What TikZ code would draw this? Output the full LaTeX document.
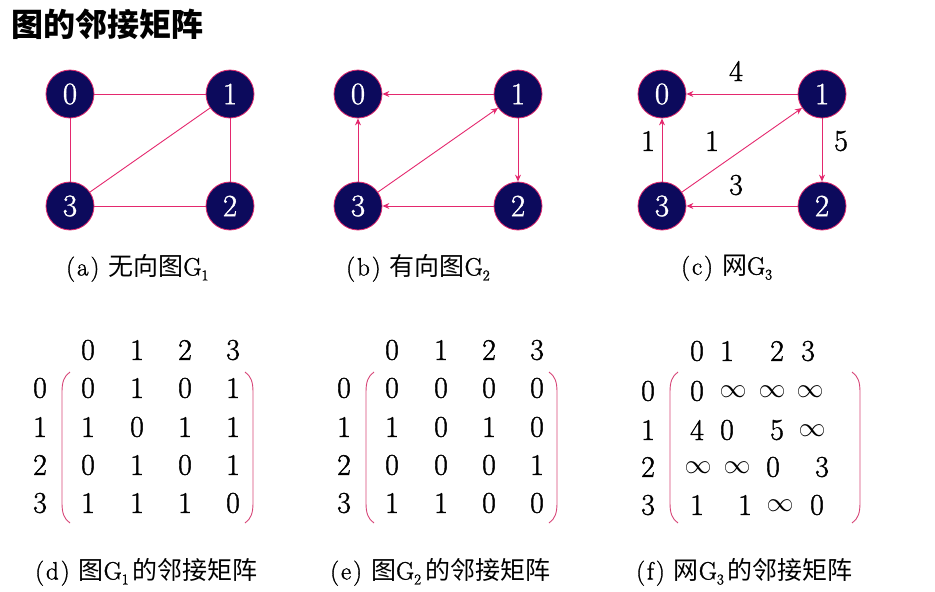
\documentclass[tikz,border=0pt]{standalone}
\usepackage{fix-cm}
\usepackage{fontspec}
\newfontfamily\cjk{Noto Sans CJK SC}
\newfontfamily\numfont{Latin Modern Roman}[RawFeature={embolden=1.3}]
\usetikzlibrary{arrows.meta}
\definecolor{navy}{RGB}{12,10,92}
\definecolor{edgec}{RGB}{228,40,110}
\definecolor{parc}{RGB}{215,70,120}
\newcommand\zh[1]{{\cjk #1}}
\newcommand\sbs[1]{\raisebox{-5pt}{\fontsize{15}{15}\selectfont #1}}
\newcommand\inft{{\fontsize{27}{27}\selectfont$\infty$}}
\newcommand\lbl[1]{(\kern2pt#1\kern2pt)\hspace{9pt}}
\begin{document}
\begin{tikzpicture}[x=1pt,y=-1pt,
  vtx/.style={circle,fill=navy,draw=edgec,line width=0.8pt,minimum size=48pt,inner sep=0pt,text=white,font=\fontsize{31}{31}\selectfont\numfont},
  edge/.style={draw=edgec,line width=0.9pt},
  arc/.style={edge,-{Stealth[length=7pt,width=6pt]}},
  num/.style={font=\fontsize{30}{30}\selectfont\numfont,inner sep=0pt},
  captxt/.style={font=\fontsize{25}{25}\selectfont\numfont,inner sep=0pt,anchor=west},
  paren/.style={draw=parc,line width=0.9pt}
]
\useasboundingbox (0,0) rectangle (935,592);
\node[anchor=west,inner sep=0pt,font=\fontsize{32}{32}\selectfont\cjk\bfseries] (title) at (11,24) {图的邻接矩阵};

% graph a
\node[vtx] (a0) at (70,94) {0};
\node[vtx] (a1) at (230,94) {1};
\node[vtx] (a2) at (230,206) {2};
\node[vtx] (a3) at (70,206) {3};
\draw[edge] (a0) -- (a1);
\draw[edge] (a0) -- (a3);
\draw[edge] (a1) -- (a2);
\draw[edge] (a3) -- (a2);
\draw[edge] (a3) -- (a1);
\node[captxt] (capa) at (66,268) {\lbl{a}\zh{无向图}G\sbs{1}};

% graph b
\node[vtx] (b0) at (358,94) {0};
\node[vtx] (b1) at (518,94) {1};
\node[vtx] (b2) at (518,206) {2};
\node[vtx] (b3) at (358,206) {3};
\draw[arc] (b1) -- (b0);
\draw[arc] (b1) -- (b2);
\draw[arc] (b2) -- (b3);
\draw[arc] (b3) -- (b0);
\draw[arc] (b3) -- (b1);
\node[captxt] (capb) at (346,268) {\lbl{b}\zh{有向图}G\sbs{2}};

% graph c
\node[vtx] (c0) at (662,94) {0};
\node[vtx] (c1) at (822,94) {1};
\node[vtx] (c2) at (822,206) {2};
\node[vtx] (c3) at (662,206) {3};
\draw[arc] (c1) -- (c0);
\draw[arc] (c1) -- (c2);
\draw[arc] (c2) -- (c3);
\draw[arc] (c3) -- (c0);
\draw[arc] (c3) -- (c1);
\node[num] (w10) at (736,71) {4};
\node[num] (w12) at (841,141) {5};
\node[num] (w23) at (736,185) {3};
\node[num] (w30) at (648,141) {1};
\node[num] (w31) at (712,141) {1};
\node[captxt] (capc) at (681,268) {\lbl{c}\zh{网}G\sbs{3}};

% matrix d
\foreach \c/\x in {0/88,1/137,2/185,3/233} \node[num] (dh\c) at (\x,350) {\c};
\foreach \r/\y in {0/388,1/427,2/465,3/503} \node[num] (dr\r) at (40,\y) {\r};
\foreach \r/\y/\a/\b/\cc/\d in {0/388/0/1/0/1,1/427/1/0/1/1,2/465/0/1/0/1,3/503/1/1/1/0}{
  \node[num] (d\r0) at (88,\y) {\a};
  \node[num] (d\r1) at (137,\y) {\b};
  \node[num] (d\r2) at (185,\y) {\cc};
  \node[num] (d\r3) at (233,\y) {\d};
}
\draw[paren] (70,372) .. controls (64,376) and (62,382) .. (62,392) -- (62,503) .. controls (62,513) and (64,519) .. (70,523);
\draw[paren] (245,372) .. controls (251,376) and (253,382) .. (253,392) -- (253,503) .. controls (253,513) and (251,519) .. (245,523);
\node[captxt] (capd) at (35,572) {\lbl{d}\zh{图}G\sbs{1}\kern4pt\zh{的邻接矩阵}};

% matrix e
\foreach \c/\x in {0/392,1/441,2/489,3/537} \node[num] (eh\c) at (\x,350) {\c};
\foreach \r/\y in {0/388,1/427,2/465,3/503} \node[num] (er\r) at (344,\y) {\r};
\foreach \r/\y/\a/\b/\cc/\d in {0/388/0/0/0/0,1/427/1/0/1/0,2/465/0/0/0/1,3/503/1/1/0/0}{
  \node[num] (e\r0) at (392,\y) {\a};
  \node[num] (e\r1) at (441,\y) {\b};
  \node[num] (e\r2) at (489,\y) {\cc};
  \node[num] (e\r3) at (537,\y) {\d};
}
\draw[paren] (374,372) .. controls (368,376) and (366,382) .. (366,392) -- (366,503) .. controls (366,513) and (368,519) .. (374,523);
\draw[paren] (549,372) .. controls (555,376) and (557,382) .. (557,392) -- (557,503) .. controls (557,513) and (555,519) .. (549,523);
\node[captxt] (cape) at (330,572) {\lbl{e}\zh{图}G\sbs{2}\kern4pt\zh{的邻接矩阵}};

% matrix f
\node[num] (fh0) at (697,351) {0};
\node[num] (fh1) at (727,351) {1};
\node[num] (fh2) at (777,351) {2};
\node[num] (fh3) at (808,351) {3};
\foreach \r/\y in {0/391,1/430,2/467,3/505} \node[num] (fr\r) at (648,\y) {\r};
\node[num] (f00) at (697,391) {0};
\node[num] (f01) at (733,392) {\inft};
\node[num] (f02) at (772,392) {\inft};
\node[num] (f03) at (810,392) {\inft};
\node[num] (f10) at (697,430) {4};
\node[num] (f11) at (727,430) {0};
\node[num] (f12) at (777,430) {5};
\node[num] (f13) at (812,431) {\inft};
\node[num] (f20) at (698,468) {\inft};
\node[num] (f21) at (737,468) {\inft};
\node[num] (f22) at (773,467) {0};
\node[num] (f23) at (822,467) {3};
\node[num] (f30) at (697,505) {1};
\node[num] (f31) at (745,505) {1};
\node[num] (f32) at (780,506) {\inft};
\node[num] (f33) at (817,505) {0};
\draw[paren] (678,372) .. controls (672,376) and (670,382) .. (670,392) -- (670,503) .. controls (670,513) and (672,519) .. (678,523);
\draw[paren] (852,372) .. controls (858,376) and (860,382) .. (860,392) -- (860,503) .. controls (860,513) and (858,519) .. (852,523);
\node[captxt] (capf) at (636,572) {\lbl{f}\zh{网}G\sbs{3}\kern4pt\zh{的邻接矩阵}};
\end{tikzpicture}
\end{document}
